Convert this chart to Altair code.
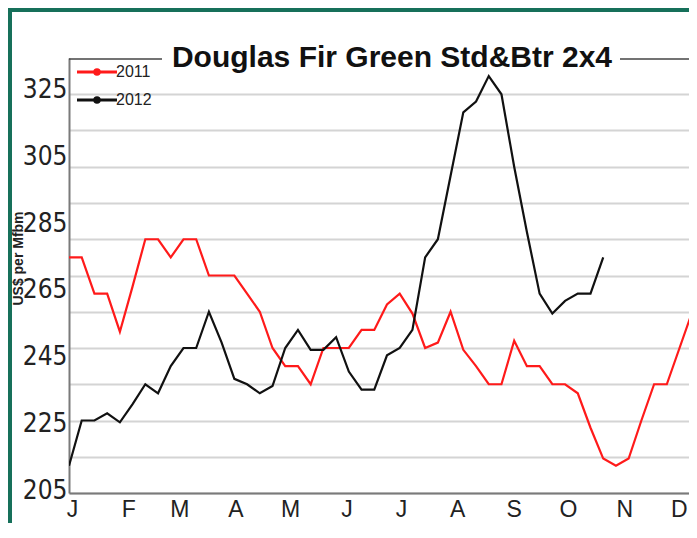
import altair as alt
import pandas as pd

# ---------------- data ----------------
title_text = "Douglas Fir Green Std&Btr 2x4"
y_title = "US$ per Mfbm"
years = ["2011", "2012"]
colors = ["#ff1a1a", "#111111"]
month_letters = ["J", "F", "M", "A", "M", "J", "J", "A", "S", "O", "N", "D"]
y_ticks = [205, 215, 225, 235, 245, 255, 265, 275, 285, 295, 305, 315, 325]
first_week = "2011-01-01"

# weekly prices, US$ per Mfbm
v2011 = [270, 270, 260, 260, 249.5, 262, 275, 275, 270, 275,
         275, 265, 265, 265, 260, 255, 245, 240, 240, 235,
         245, 245, 245, 250, 250, 257, 260, 254.5, 245, 246.5,
         255, 244.5, 240, 235, 235, 247, 240, 240, 235, 235,
         232.5, 223, 214.5, 212.5, 214.5, 225, 235, 235, 245, 255]
v2012 = [212.5, 225, 225, 227, 224.5, 229.5, 235, 232.5, 240, 245,
         245, 255, 246.5, 236.5, 235, 232.5, 234.5, 245, 250, 244.5,
         244.5, 248, 238.5, 233.5, 233.5, 243, 245, 250, 270, 275,
         292.5, 310, 313, 320, 315, 295, 277, 260, 254.5, 258,
         260, 260, 270]

week_dates = [(pd.Timestamp(first_week) + pd.Timedelta(weeks=i)).strftime("%Y-%m-%d")
              for i in range(max(len(v2011), len(v2012)))]

rows = []
for yr, vals in zip(years, [v2011, v2012]):
    for i, v in enumerate(vals):
        rows.append({"date": week_dates[i], "year": yr, "price": v})
df = pd.DataFrame(rows)

# ---------------- layout ----------------
W, H = 620, 435
green = "#16705a"
FONT = "Liberation Sans, Arial, sans-serif"
NARROW = "Liberation Sans Narrow, Arial Narrow, DejaVu Sans Condensed, sans-serif"

x_scale = alt.Scale(
    type="utc",
    domain=[alt.DateTime(year=2011, month=1, date=1, utc=True),
            alt.DateTime(year=2011, month=12, date=8, hours=5, utc=True)],
)
month_ticks = [alt.DateTime(year=2011, month=m, date=1, utc=True) for m in range(1, 13)]
letters_js = "[" + ",".join("'%s'" % m for m in month_letters) + "]"

lines = alt.Chart(df).mark_line(strokeWidth=2.2, clip=True).encode(
    x=alt.X(
        "date:T",
        scale=x_scale,
        axis=alt.Axis(
            values=month_ticks,
            labelExpr=letters_js + "[utcmonth(datum.value)]",
            title=None, grid=False, ticks=False,
            domainColor="#7a7a7a", domainWidth=2,
            labelFont=FONT, labelFontSize=23, labelColor="#222",
            labelPadding=5, labelOffset=3, labelFlush=False, labelOverlap=False,
            labelAlign="center",
        ),
    ),
    y=alt.Y(
        "price:Q",
        scale=alt.Scale(domain=[205, 325], nice=False, zero=False),
        axis=alt.Axis(
            values=y_ticks,
            labelExpr="datum.value % 20 == 5 ? datum.label : ''",
            labelOffset=alt.ExprRef(expr="(datum.value - 205) * 0.29 - 3"),
            labelOverlap=False,
            labelFont=NARROW, labelFontSize=26, labelColor="#222", labelPadding=2,
            ticks=False,
            domainColor="#7a7a7a", domainWidth=2,
            grid=True, gridColor="#d4d4d4", gridWidth=2,
            gridOpacity={"condition": {"test": "datum.value == 325", "value": 0}, "value": 1},
            title=y_title, titleFont=FONT, titleFontSize=14, titleFontWeight="bold",
            titleColor="#222", titleX=-51, titleY=200, titleAngle=-90,
            titleAlign="center", titleBaseline="middle",
        ),
    ),
    color=alt.Color(
        "year:N",
        scale=alt.Scale(domain=years, range=colors),
        legend=alt.Legend(
            orient="none", legendX=20, legendY=6, title=None, padding=0,
            symbolType="M-4,0L4,0M-0.45,0A0.45,0.45,0,1,1,0.45,0A0.45,0.45,0,1,1,-0.45,0",
            symbolSize=100, symbolStrokeWidth=3,
            labelFont=FONT, labelFontSize=16, labelColor="#222",
            labelOffset=11, rowPadding=10,
        ),
    ),
)

deco = pd.DataFrame({"t": [title_text]})

frame_left = alt.Chart(deco).mark_rule(color=green, strokeWidth=4).encode(
    x=alt.value(-59), y=alt.value(-50), y2=alt.value(H + 40))
frame_top = alt.Chart(deco).mark_rule(color=green, strokeWidth=4).encode(
    x=alt.value(-61), x2=alt.value(W), y=alt.value(-48))
top_left = alt.Chart(deco).mark_rule(color="#444", strokeWidth=1.5).encode(
    x=alt.value(0), x2=alt.value(93), y=alt.value(1))
top_right = alt.Chart(deco).mark_rule(color="#444", strokeWidth=1.5).encode(
    x=alt.value(551), x2=alt.value(W), y=alt.value(1))
title = alt.Chart(deco).mark_text(
    font=FONT, fontSize=30, fontWeight="bold", color="#111",
    align="center", baseline="alphabetic",
).encode(text="t:N", x=alt.value(323), y=alt.value(9))

chart = alt.layer(lines, top_left, top_right, title, frame_left, frame_top).properties(
    width=W, height=H,
    padding={"left": 61, "top": 50, "right": 0, "bottom": 30},
    autosize=alt.AutoSizeParams(type="none"),
).configure_view(strokeWidth=0)

chart.save("out.html", embed_options={"renderer": "svg", "actions": False})
